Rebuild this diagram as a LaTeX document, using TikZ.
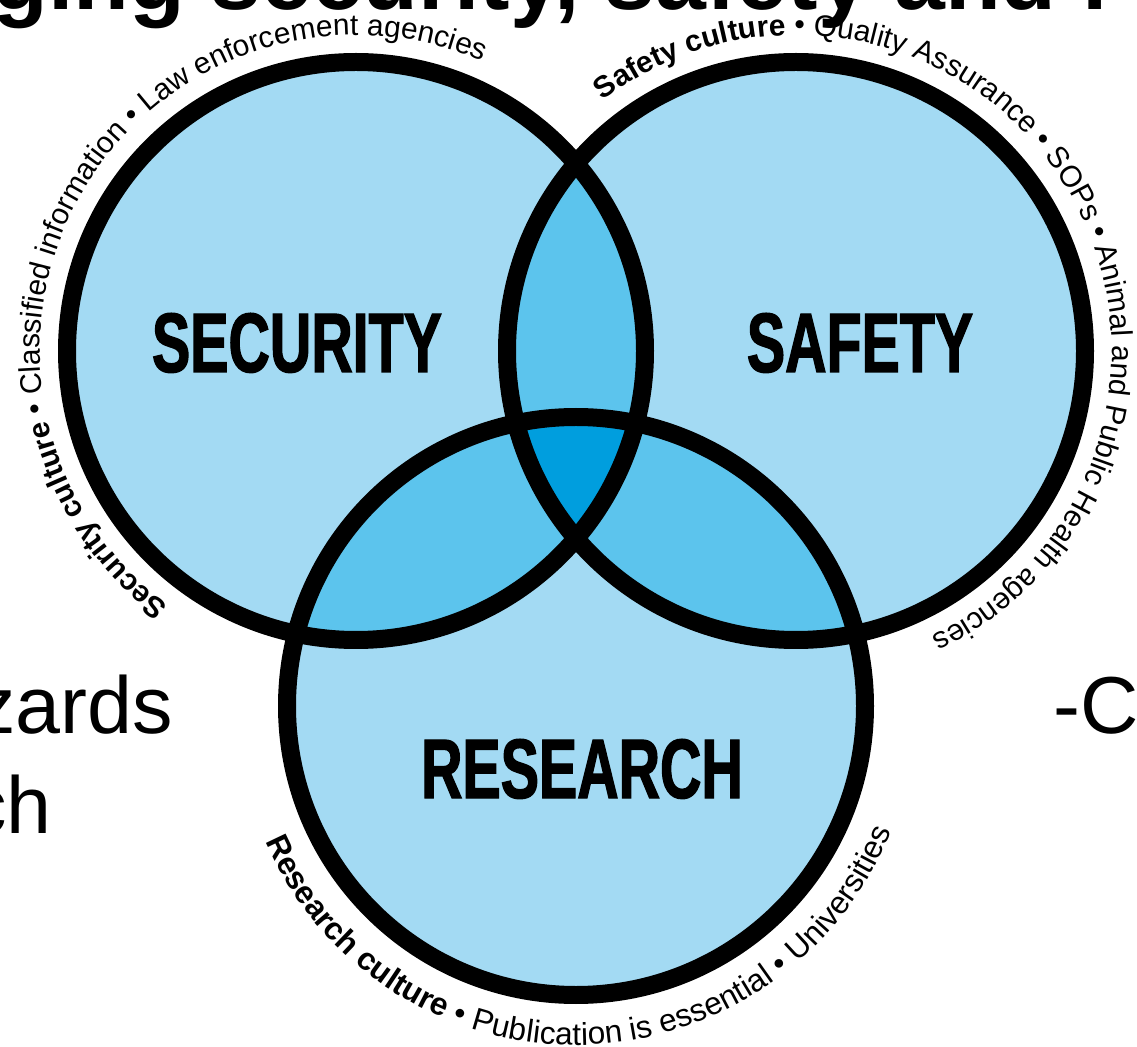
\documentclass[tikz,border=0pt]{standalone}
\usepackage{fontspec}
\setmainfont{Liberation Sans}
\newfontfamily\headfont[FakeStretch=0.68,FakeBold=1.5]{Liberation Sans}
\usetikzlibrary{decorations.text}
\definecolor{venn}{HTML}{A3DAF3}
\definecolor{lens}{HTML}{5CC4ED}
\definecolor{core}{HTML}{009EDE}
\newcommand\rimsize{\fontsize{17}{17}\selectfont}
\newcommand\lowrimsize{\fontsize{18}{18}\selectfont}

\begin{document}
\begin{tikzpicture}[x=0.02cm,y=0.02cm,
    ring/.style={line width=0.36cm},
    head/.style={font=\headfont\bfseries\fontsize{48}{48}\selectfont,anchor=base,inner sep=0},
    slide/.style={font=\fontsize{46}{46}\selectfont,anchor=base west,inner sep=0},
    rim/.style={decorate,decoration={text along path,text align=center,text={#1}}}]
  \useasboundingbox (0,0) rectangle (1137,-1047);
  \clip (0,0) rectangle (1137,-1047);
  % slide text behind the figure
  \node[slide,font=\bfseries\fontsize{52}{52}\selectfont] (ttl) at (-8,-10) {ging security, safety and r};
  \node[slide] (haz) at (-25,-733) {zards};
  \node[slide] (rch) at (-34,-833) {ch};
  \node[slide] (cut) at (1053,-733) {-C};
  % the three circles
  \coordinate (sec) at (356,-351);
  \coordinate (saf) at (796,-351);
  \coordinate (res) at (576,-706);
  \fill[venn] (sec) circle[radius=289] (saf) circle[radius=289] (res) circle[radius=289];
  \begin{scope}
    \clip (sec) circle[radius=289];
    \fill[lens] (saf) circle[radius=289] (res) circle[radius=289];
  \end{scope}
  \begin{scope}
    \clip (saf) circle[radius=289];
    \fill[lens] (res) circle[radius=289];
  \end{scope}
  \begin{scope}
    \clip (sec) circle[radius=289];
    \clip (saf) circle[radius=289];
    \fill[core] (res) circle[radius=289];
  \end{scope}
  \draw[ring] (sec) circle[radius=289] (saf) circle[radius=289] (res) circle[radius=289];
  \node[head] (secL) at (297,-372) {SECURITY};
  \node[head] (safL) at (860,-372) {SAFETY};
  \node[head] (resL) at (582,-798) {RESEARCH};
  % text round the rims
  \path[rim={|\rimsize\bfseries|Security culture|\rimsize\mdseries| • Classified information • Law enforcement agencies}]
    (sec) ++(250:316) arc[start angle=250,end angle=50,radius=316];
  \path[rim={|\rimsize\bfseries|Safety culture|\rimsize\mdseries| • Quality Assurance • SOPs • Animal and Public Health agencies}]
    (saf) ++(135:316) arc[start angle=135,end angle=-72,radius=316];
  \path[rim={|\lowrimsize\bfseries|Research culture|\lowrimsize\mdseries| • Publication is essential • Universities}]
    (res) ++(190:339) arc[start angle=190,end angle=352,radius=339];
\end{tikzpicture}
\end{document}
